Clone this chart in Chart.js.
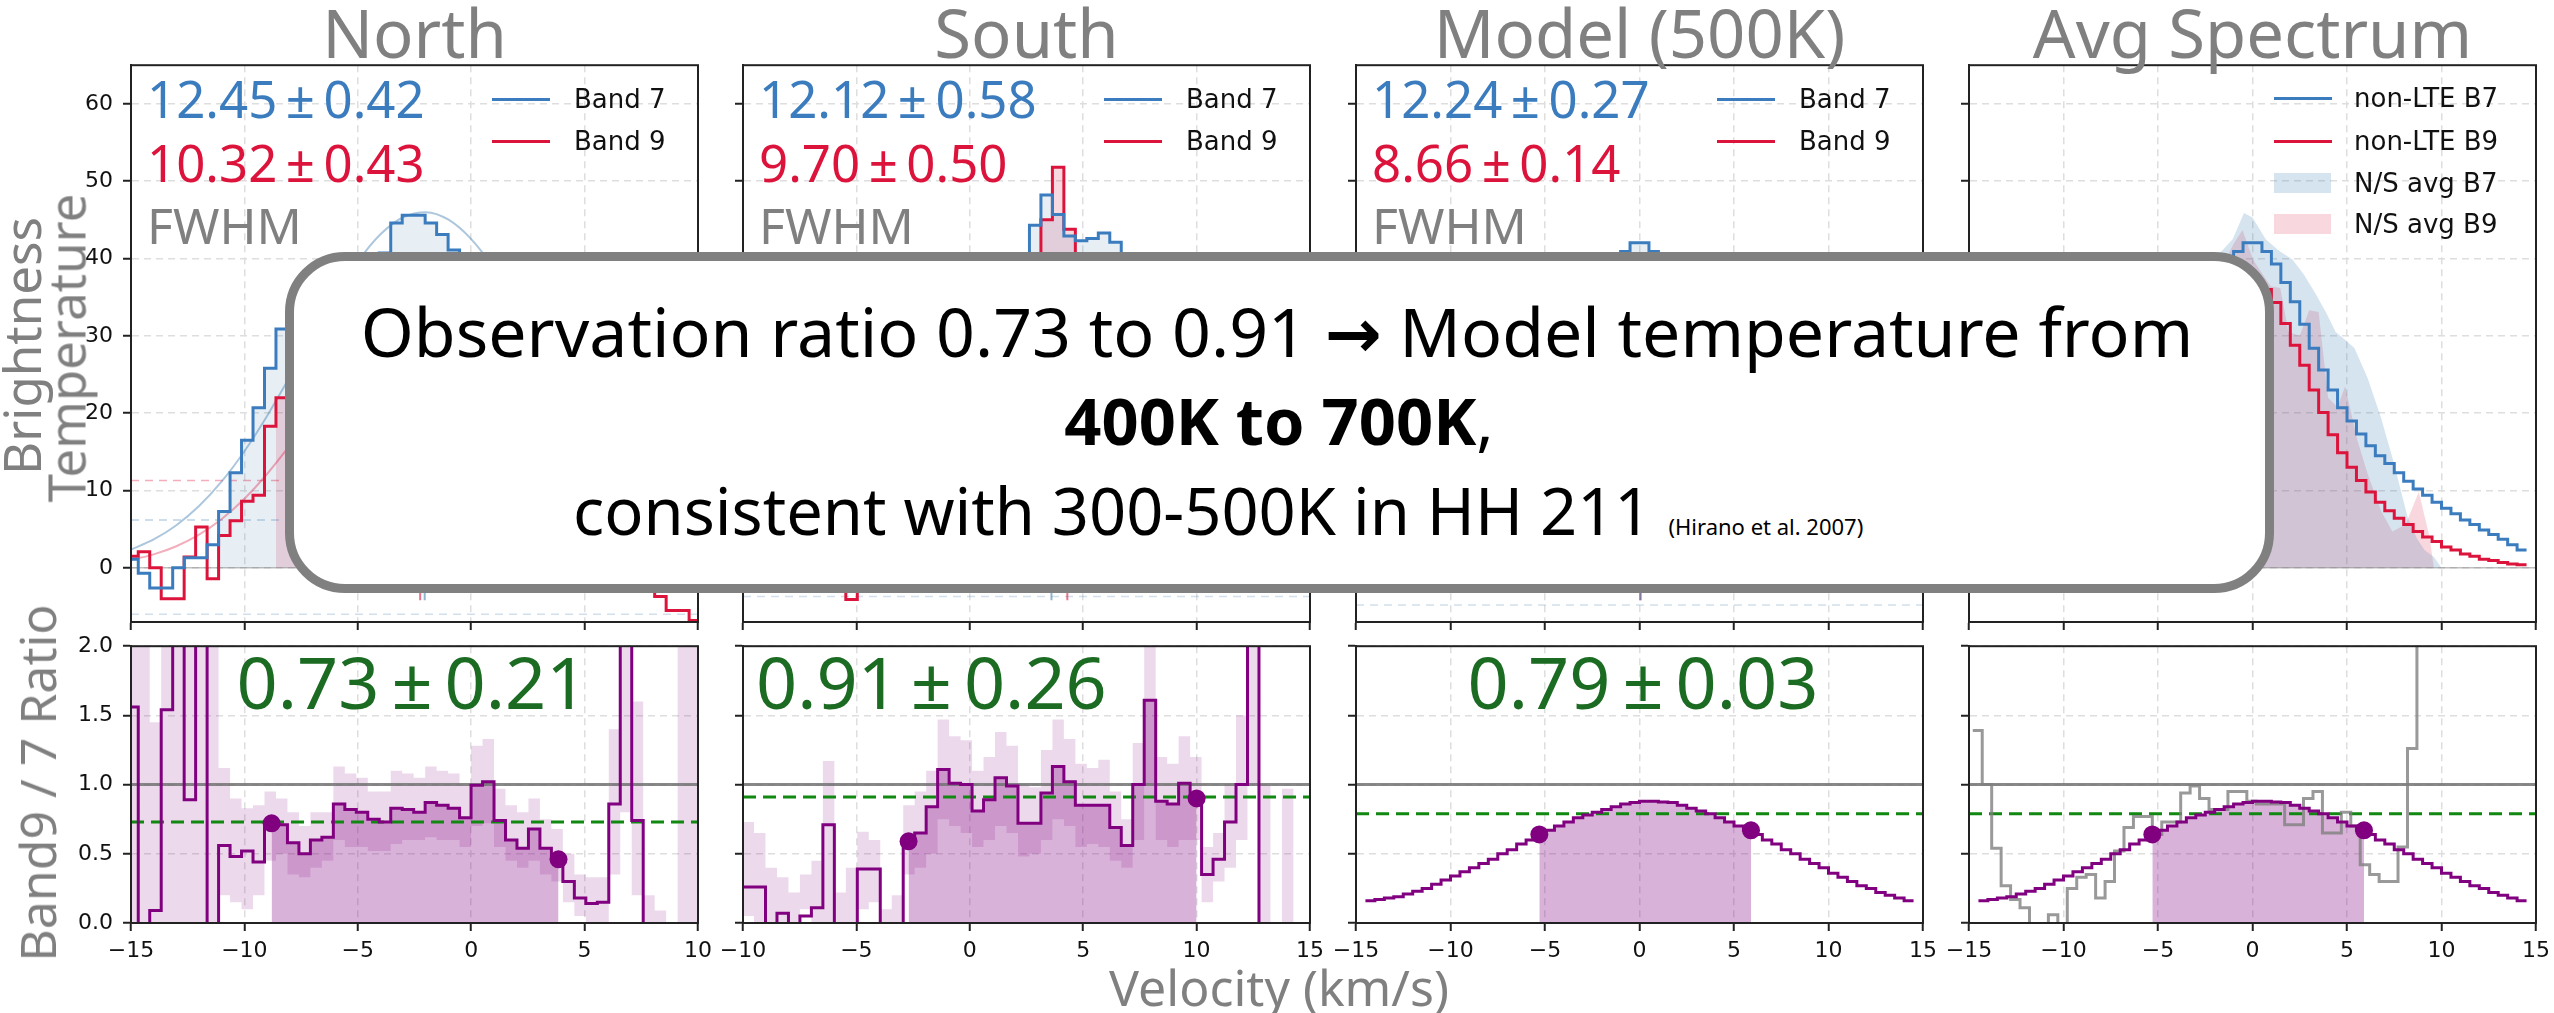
<!DOCTYPE html>
<html>
<head>
<meta charset="utf-8">
<title>Band 9 / Band 7 ratio</title>
<script src="https://cdn.jsdelivr.net/npm/chart.js@4.4.1/dist/chart.umd.min.js"></script>
<style>
  html, body { margin: 0; padding: 0; background: #fff; }
  body { position: relative; width: 2554px; height: 1013px; overflow: hidden; }
  canvas, .t, .box, .key { position: absolute; }
  .t { line-height: 1; white-space: nowrap; z-index: 5; }
  .box { left: 285px; top: 252px; width: 1989px; height: 341px; box-sizing: border-box;
         border: 9px solid #808080; border-radius: 60px; background: #fff; z-index: 10; }
</style>
</head>
<body>
<script>
// ---- data ----
const titles = ["North", "South", "Model (500K)", "Avg Spectrum"];
const xRanges = [[-15, 10], [-10, 15], [-15, 15], [-15, 15]];
const tempRange = [-7, 65];
const ratioRange = [0, 2];

// channel grid of the observed spectra (km/s)
const chanWidth = 0.506;
const northStart = -15.186;
const southStart = -10.02;

const northB7 = [1.1, -0.7, -2.6, -2.6, 0.0, 1.3, 1.3, 3.0, 7.3, 12.3, 16.5, 20.7, 25.8, 30.9, 33.5, 35.0, 35.5, 36.5, 37.0, 37.5,
  38.0, 39.0, 40.7, 44.6, 45.6, 45.6, 44.6, 43.1, 41.1, 38.5, 35.0, 31.0, 27.0, 23.0, 19.0, 15.0, 12.0, 9.0, 6.5, 4.5,
  3.0, 2.0, 1.0, 0.5, 0.5, 0.0, -0.5, -1.0, -1.0, -1.5];
const northB9 = [1.5, 2.1, 0.0, -4.0, -4.0, 1.4, 5.3, -1.4, 4.2, 6.1, 8.6, 9.4, 18.3, 22.0, 22.5, 21.5, 18.5, 21.5, 22.5, 30.5,
  31.5, 31.0, 30.5, 33.0, 38.0, 37.5, 36.0, 37.0, 34.5, 31.5, 27.0, 31.0, 27.5, 17.5, 11.5, 8.3, 8.0, 4.8, 2.2, 1.3,
  0.5, 0.3, 0.8, 1.0, 0.5, -1.0, -3.7, -5.5, -5.5, -6.8];
const northFitV = [-15, -14, -13, -12, -11, -10, -9, -8, -7, -6, -5, -4, -3, -2, -1, 0, 1, 2, 3, 4, 5, 6, 7, 8, 9, 10];
const northFitB7 = [2.36, 3.67, 5.51, 7.99, 11.17, 15.08, 19.65, 24.70, 29.96, 35.05, 39.59, 43.13, 45.34, 46.0, 45.02, 42.51,
  38.74, 34.07, 28.90, 23.66, 18.69, 14.25, 10.47, 7.43, 5.09, 3.36];
const northFitB9 = [1.05, 1.75, 2.80, 4.29, 6.32, 8.94, 12.14, 15.83, 19.82, 23.81, 27.46, 30.41, 32.33, 33.0, 32.33, 30.41,
  27.46, 23.81, 19.82, 15.83, 12.14, 8.94, 6.32, 4.29, 2.80, 1.75];
const northRatio = [1.56, -0.3, 0.09, 1.54, 3.0, 0.89, 3.0, -0.5, 0.56, 0.48, 0.52, 0.44, 0.72, 0.71, 0.58, 0.50, 0.60, 0.62, 0.86, 0.82,
  0.80, 0.75, 0.73, 0.83, 0.82, 0.80, 0.87, 0.85, 0.83, 0.76, 0.995, 1.02, 0.74, 0.60, 0.54, 0.68, 0.54, 0.46, 0.30, 0.18,
  0.14, 0.15, 0.86, 3.0, 0.74, -0.5, -0.5, -0.5, -0.5, -0.5];
const northRatioLo = [0, 0, 0, 0, 0, 0, 0, 0, 0.2, 0.15, 0.1, 0.2, 0.45, 0.5, 0.35, 0.33, 0.4, 0.45, 0.6, 0.55,
  0.55, 0.52, 0.52, 0.57, 0.6, 0.6, 0.62, 0.6, 0.6, 0.55, 0.7, 0.72, 0.55, 0.45, 0.4, 0.45, 0.35, 0.3, 0.15, 0.05,
  0, 0, 0.35, 0.8, 0.2, 0, 0, 0, 0, 0];
const northRatioHi = [2, 2, 1.45, 2, 2, 2, 2, 2, 1.12, 0.9, 0.83, 0.85, 0.95, 0.9, 0.8, 0.7, 0.8, 0.8, 1.13, 1.08,
  1.05, 0.95, 0.95, 1.1, 1.08, 1.05, 1.13, 1.1, 1.08, 1.0, 1.28, 1.33, 0.97, 0.85, 0.8, 0.9, 0.75, 0.68, 0.5, 0.35,
  0.33, 0.33, 1.4, 2, 1.6, 0.2, 0.09, 0, 2, 2];

const southB7 = [1.0, 0.5, 1.5, 0.8, 1.2, 2.0, 1.0, 2.5, 2.0, 1.5, 2.5, 3.5, 5.0, 8.0, 12.0, 17.0, 22.0, 27.0, 31.0, 34.0,
  36.0, 37.5, 39.0, 39.5, 39.5, 44.3, 48.2, 45.7, 42.9, 42.3, 42.6, 43.3, 42.1, 36.0, 30.0, 22.0, 17.0, 13.0, 10.0, 8.0,
  5.0, 3.5, 3.0, 2.0, 1.0, 0.5, 0.8, 0.3, 0.5, 0.2];
const southB9 = [0.3, 0.2, -0.5, 0.2, 0.3, 0.5, 1.5, 2.0, 0.5, -4.1, 1.8, 1.0, 1.5, 4.0, 7.0, 11.0, 18.5, 30.0, 31.0, 33.5,
  29.5, 33.0, 40.0, 39.0, 29.0, 32.0, 45.0, 51.8, 43.8, 36.0, 36.5, 37.0, 29.0, 20.0, 30.0, 35.0, 15.0, 11.4, 10.0, 7.2,
  2.0, 1.7, 1.8, 2.0, 2.0, 0.3, 0.0, 0.2, -0.3, 0.1];
const southRatio = [0.26, 0.26, -0.5, 0.07, -0.5, 0.05, 0.11, 0.71, -0.5, -0.5, 0.39, 0.39, -0.5, -0.5, 0.59, 0.65, 0.84, 1.11, 1.01, 1.0,
  0.81, 0.89, 1.05, 0.99, 0.72, 0.72, 0.94, 1.13, 1.02, 0.85, 0.85, 0.85, 0.69, 0.56, 1.0, 1.61, 0.88, 0.86, 1.01, 0.9,
  0.35, 0.46, 0.73, 1.0, 3.0, -0.5, -0.5, -0.5, -0.5, -0.5];
const southRatioLo = [0.05, 0, 0, 0, 0, 0.1, 0, 0, 0, 0, 0.1, 0.15, 0, 0, 0.35, 0.4, 0.5, 0.75, 0.7, 0.65,
  0.55, 0.6, 0.7, 0.65, 0.48, 0.5, 0.6, 0.75, 0.7, 0.55, 0.57, 0.55, 0.45, 0.4, 0.6, 1.0, 0.6, 0.55, 0.6, 0.6,
  0.15, 0.3, 0.4, 0.6, 1.0, 0, 0, 0, 0, 0];
const southRatioHi = [0.73, 0.65, 0.4, 0.33, 0.22, 0.35, 0.45, 1.17, 0.22, 0.4, 0.66, 0.6, 0.1, 0.2, 0.85, 0.95, 1.1, 1.47, 1.35, 1.32,
  1.1, 1.2, 1.38, 1.28, 1.0, 0.98, 1.25, 1.47, 1.33, 1.15, 1.12, 1.18, 0.95, 0.75, 1.3, 2.0, 1.2, 1.15, 1.35, 1.2,
  0.55, 0.65, 1.0, 1.5, 2.0, 1.0, 0, 0.97, 0, 0];

// non-LTE model (500 K), 0.5 km/s bins from -14.5
const modelStart = -14.5;
const modelWidth = 0.5;
const modelB7 = [2.3, 3.0, 3.7, 4.3, 4.9, 5.6, 6.2, 7.0, 7.7, 8.5, 9.4, 10.2, 11.2, 12.3, 13.5, 14.5, 15.8, 17.3, 19.0, 20.7,
  23.0, 25.6, 28.4, 31.5, 34.4, 36.9, 39.3, 40.9, 42.05, 42.05, 40.9, 39.3, 36.9, 34.4, 31.5, 28.4, 25.6, 23.0, 20.7, 19.0,
  17.3, 15.8, 14.5, 13.5, 12.3, 11.2, 10.2, 9.4, 8.5, 7.7, 7.0, 6.2, 5.6, 4.9, 4.3, 3.7, 3.0, 2.3];
const modelB9 = [0.4, 0.5, 0.7, 0.95, 1.1, 1.5, 1.8, 2.3, 2.7, 3.4, 4.0, 4.7, 5.6, 6.4, 7.4, 8.5, 9.8, 11.3, 13.0, 14.9,
  17.2, 20.1, 23.0, 26.2, 28.8, 31.6, 34.3, 36.0, 37.0, 37.0, 36.0, 34.3, 31.6, 28.8, 26.2, 23.0, 20.1, 17.2, 14.9, 13.0,
  11.3, 9.8, 8.5, 7.4, 6.4, 5.6, 4.7, 4.0, 3.4, 2.7, 2.3, 1.8, 1.5, 1.1, 0.95, 0.7, 0.5, 0.4];
const modelRatio = [0.16, 0.17, 0.18, 0.19, 0.21, 0.23, 0.25, 0.28, 0.31, 0.34, 0.37, 0.40, 0.43, 0.46, 0.50, 0.53, 0.57, 0.60, 0.64, 0.67,
  0.70, 0.73, 0.76, 0.78, 0.80, 0.82, 0.84, 0.86, 0.87, 0.88, 0.88, 0.875, 0.87, 0.85, 0.83, 0.81, 0.79, 0.76, 0.73, 0.70,
  0.67, 0.64, 0.60, 0.57, 0.53, 0.50, 0.46, 0.43, 0.40, 0.36, 0.33, 0.30, 0.27, 0.25, 0.22, 0.20, 0.18, 0.16];

// N/S averaged spectrum
const avgRatioStart = -14.8;
const avgRatioWidth = 0.5;
const avgRatio = [1.39, 1.0, 0.54, 0.27, 0.17, 0.11, -0.05, -0.05, 0.06, -0.05, 0.25, 0.33, 0.35, 0.18, 0.30, 0.52, 0.69, 0.77, 0.77, 0.64,
  0.73, 0.73, 0.94, 0.99, 0.90, 0.82, 0.82, 0.95, 0.95, 0.88, 0.86, 0.86, 0.86, 0.71, 0.71, 0.90, 0.95, 0.65, 0.65, 0.80,
  0.70, 0.42, 0.35, 0.30, 0.30, 0.55, 1.26, 3.0, 3.0];
const avgBandB7V = [-13, -12, -11, -10, -9, -8, -7, -6, -5, -4, -3, -2, -1.05, -0.45, 0, 0.7, 1.4, 2.1, 2.7, 3.3, 3.9, 4.4, 4.9, 5.4,
  6.1, 6.8, 7.5, 8.2, 8.7, 9.1, 9.6, 10.0];
const avgBandB7T = [0, 1, 3, 6, 10, 15, 20, 25, 30, 34, 37, 40, 42.5, 45.9, 45.3, 42.5, 41.0, 39.9, 38.0, 35.6, 33.0, 30.5, 29.5, 28.4,
  24.5, 19.4, 13.4, 6.6, 3.8, 2.3, 1.4, 0];
const avgBandB9V = [-12, -10, -8, -6, -4, -3, -2, -1.0, -0.53, 0.04, 0.96, 1.47, 1.9, 2.5, 3.0, 3.5, 4.0, 4.5, 4.9, 5.55, 6.1, 6.8,
  7.4, 8.1, 8.8, 9.35, 9.6];
const avgBandB9T = [0, 3, 9, 18, 27, 32, 37, 41.9, 43.7, 39.8, 36.4, 36.2, 30.5, 30.0, 33.3, 33.1, 22.0, 20.8, 23.5, 16.5, 12.1, 7.4,
  4.7, 5.6, 9.8, 4.2, 0];

// fitted widths and ratios
const fwhmB7 = ["12.45", "12.12", "12.24"];
const fwhmB7Err = ["0.42", "0.58", "0.27"];
const fwhmB9 = ["10.32", "9.70", "8.66"];
const fwhmB9Err = ["0.43", "0.50", "0.14"];
const ratioMean = [0.73, 0.91, 0.79, 0.79];
const ratioMeanText = ["0.73", "0.91", "0.79"];
const ratioErrText = ["0.21", "0.26", "0.03"];
const ratioRef = 1.0;
const ratioSpan = [[-8.8, 3.85], [-2.7, 10.0], [-5.3, 5.9], [-5.3, 5.9]];
const b7Span = [[-11.14, 1.51], [-3.0, 9.2], [-6.1, 6.1]];
const b9Span = [[-8.61, 1.01], [-2.7, 10.0], [-4.3, 4.3]];
const noiseB7 = 6.2, noiseB9 = 11.3;
const floorLine = [-6.0, -3.7, -4.8];
const centroidB7 = [-2.05, 3.6, 0.05];
const centroidB9 = [-2.25, 4.3, 0.05];
const centroidFloor = -4.2;

// ---- layout ----
const W = 567;
const panelLeft = [131, 743, 1356, 1969];
const topY = 62, topH = 560;
const lowY = 643, lowH = 280;

const BLUE = "#3b7cbf", RED = "#dc143c", PURPLE = "#800080", GREY = "#808080";

Chart.defaults.font.family = '"DejaVu Sans"';
Chart.defaults.color = "#111";
Chart.defaults.elements.point.radius = 0;
Chart.defaults.elements.point.hoverRadius = 0;

// helpers that turn the arrays into points
function steps(start, dv, vals) {
  const pts = vals.map((y, i) => ({ x: start + i * dv, y: y }));
  pts.push({ x: start + vals.length * dv, y: vals[vals.length - 1] });
  return pts;
}
function valueAt(start, dv, vals, x) {
  let i = Math.floor((x - start) / dv);
  i = Math.max(0, Math.min(vals.length - 1, i));
  return vals[i];
}
function stepSpan(start, dv, vals, span) {
  const pts = [{ x: span[0], y: valueAt(start, dv, vals, span[0]) }];
  vals.forEach((y, i) => {
    const x = start + i * dv;
    if (x > span[0] && x < span[1]) pts.push({ x: x, y: y });
  });
  pts.push({ x: span[1], y: valueAt(start, dv, vals, span[1]) });
  return pts;
}
const polyline = (xs, ys) => xs.map((x, i) => ({ x: x, y: ys[i] }));
const hline = (y, xr) => [{ x: xr[0], y: y }, { x: xr[1], y: y }];
const vline = (x, y0, y1) => [{ x: x, y: y0 }, { x: x, y: y1 }];

const stepLine = (data, color, width) => ({ data, borderColor: color, borderWidth: width, stepped: true });
const stepArea = (data, color) => ({ data, borderWidth: 0, borderColor: "transparent", backgroundColor: color, stepped: true, fill: "origin" });
const plain = (data, color, width, dash) => ({ data, borderColor: color, borderWidth: width, borderDash: dash || [] });
const smooth = (data, color, width) => ({ data, borderColor: color, borderWidth: width, cubicInterpolationMode: "monotone" });
const band = (data, color) => ({ data, borderWidth: 0, borderColor: "transparent", backgroundColor: color, fill: "origin" });

const framePlugin = {
  id: "frame",
  afterDraw(chart) {
    const a = chart.chartArea, ctx = chart.ctx;
    ctx.save();
    ctx.strokeStyle = "#222";
    ctx.lineWidth = 2;
    ctx.strokeRect(a.left, a.top, a.right - a.left, a.bottom - a.top);
    ctx.restore();
  }
};

const minus = v => String(v).replace("-", "\u2212");

function makeChart(i, y0, h, yr, yStep, showX, showY, yFmt, datasets) {
  const padL = 75, padT = 20, padR = 32, xh = showX ? 62 : 42;
  const cw = W + padL + padR, ch = h + padT + xh;
  const c = document.createElement("canvas");
  c.width = cw; c.height = ch;
  c.style.left = (panelLeft[i] - padL) + "px";
  c.style.top = (y0 - padT) + "px";
  c.style.width = cw + "px"; c.style.height = ch + "px";
  document.body.appendChild(c);
  const grid = { color: "#dedede", lineWidth: 1.5, tickColor: "#222", tickLength: 8, tickWidth: 2, tickBorderDash: [] };
  new Chart(c, {
    type: "line",
    data: { datasets: datasets },
    options: {
      responsive: false, animation: false, devicePixelRatio: 1,
      layout: { padding: { top: padT, right: padR, left: 0, bottom: 0 } },
      plugins: { legend: { display: false }, tooltip: { enabled: false } },
      scales: {
        x: {
          type: "linear", min: xRanges[i][0], max: xRanges[i][1],
          ticks: { stepSize: 5, includeBounds: false, autoSkip: false, maxRotation: 0, padding: 7,
                   font: { size: 22 }, callback: v => showX ? minus(v) : "" },
          grid: grid, border: { color: "#222", width: 2, dash: [7, 5] },
          afterFit: s => { s.height = xh; }
        },
        y: {
          min: yr[0], max: yr[1],
          ticks: { stepSize: yStep, includeBounds: false, autoSkip: false, padding: 10,
                   font: { size: 22 }, callback: v => showY ? yFmt(v) : "" },
          grid: grid, border: { color: "#222", width: 2, dash: [7, 5] },
          afterFit: s => { s.width = padL; }
        }
      }
    },
    plugins: [framePlugin]
  });
}

// ---- top row: spectra ----
function spectrumSets(i, start, dv, b7, b9) {
  const xr = xRanges[i];
  const sets = [
    stepLine(steps(start, dv, b7), BLUE, 3),
    stepLine(steps(start, dv, b9), RED, 3)
  ];
  if (i === 0) {
    sets.push(smooth(polyline(northFitV, northFitB7), "rgba(70,130,180,0.45)", 2));
    sets.push(smooth(polyline(northFitV, northFitB9), "rgba(220,20,60,0.35)", 2));
    sets.push(plain(hline(noiseB9, xr), "rgba(220,20,60,0.35)", 1.5, [8, 6]));
    sets.push(plain(hline(noiseB7, xr), "rgba(70,130,180,0.35)", 1.5, [8, 6]));
  }
  sets.push(plain(vline(centroidB7[i], centroidFloor, 0), "rgba(70,130,180,0.6)", 2));
  sets.push(plain(vline(centroidB9[i], centroidFloor, 0), "rgba(220,20,60,0.6)", 2));
  sets.push(plain(hline(floorLine[i], xr), "rgba(70,130,180,0.25)", 1.5, [8, 6]));
  sets.push(plain(hline(0, xr), "rgba(128,128,128,0.5)", 1.5));
  sets.push(stepArea(stepSpan(start, dv, b7, b7Span[i]), "rgba(70,130,180,0.13)"));
  sets.push(stepArea(stepSpan(start, dv, b9, b9Span[i]), "rgba(220,20,60,0.16)"));
  return sets;
}

makeChart(0, topY, topH, tempRange, 10, false, true, v => String(v), spectrumSets(0, northStart, chanWidth, northB7, northB9));
makeChart(1, topY, topH, tempRange, 10, false, false, null, spectrumSets(1, southStart, chanWidth, southB7, southB9));
makeChart(2, topY, topH, tempRange, 10, false, false, null, spectrumSets(2, modelStart, modelWidth, modelB7, modelB9));
makeChart(3, topY, topH, tempRange, 10, false, false, null, [
  stepLine(steps(modelStart, modelWidth, modelB7), BLUE, 3),
  stepLine(steps(modelStart, modelWidth, modelB9), RED, 3),
  plain(hline(0, xRanges[3]), "rgba(128,128,128,0.5)", 1.5),
  band(polyline(avgBandB7V, avgBandB7T), "rgba(70,130,180,0.22)"),
  band(polyline(avgBandB9V, avgBandB9T), "rgba(220,20,60,0.17)")
]);

// ---- bottom row: Band9 / Band7 ratio ----
function ratioSets(i, start, dv, vals, lo, hi, extra) {
  const xr = xRanges[i];
  const span = ratioSpan[i];
  const sets = [
    { data: span.map(x => ({ x: x, y: valueAt(start, dv, vals, x) })), showLine: false,
      pointRadius: 9, pointBackgroundColor: PURPLE, pointBorderWidth: 0 },
    stepLine(steps(start, dv, vals), PURPLE, 3)
  ];
  if (extra) sets.push(extra);
  sets.push(plain(hline(ratioMean[i], xr), "#118811", 3, [13, 7]));
  sets.push(plain(hline(ratioRef, xr), "rgba(115,115,115,0.85)", 3));
  sets.push(stepArea(stepSpan(start, dv, vals, span), "rgba(128,0,128,0.3)"));
  if (lo) {
    sets.push({ data: steps(start, dv, lo), borderWidth: 0, borderColor: "transparent", stepped: true });
    sets.push({ data: steps(start, dv, hi), borderWidth: 0, borderColor: "transparent", stepped: true,
                fill: "-1", backgroundColor: "rgba(128,0,128,0.15)" });
  }
  return sets;
}
const fmt1 = v => v.toFixed(1);
makeChart(0, lowY, lowH, ratioRange, 0.5, true, true, fmt1, ratioSets(0, northStart, chanWidth, northRatio, northRatioLo, northRatioHi));
makeChart(1, lowY, lowH, ratioRange, 0.5, true, false, fmt1, ratioSets(1, southStart, chanWidth, southRatio, southRatioLo, southRatioHi));
makeChart(2, lowY, lowH, ratioRange, 0.5, true, false, fmt1, ratioSets(2, modelStart, modelWidth, modelRatio));
makeChart(3, lowY, lowH, ratioRange, 0.5, true, false, fmt1, ratioSets(3, modelStart, modelWidth, modelRatio, null, null,
  stepLine(steps(avgRatioStart, avgRatioWidth, avgRatio), "rgba(128,128,128,0.8)", 3)));

// ---- text ----
function txt(html, x, base, size, color, o) {
  o = o || {};
  const fam = o.family || '"Noto Sans"';
  const asc = fam.indexOf("DejaVu") >= 0 ? 0.846 : 0.888;
  const d = document.createElement("div");
  d.className = "t";
  d.style.left = x + "px";
  d.style.top = (base - asc * size) + "px";
  d.style.fontSize = size + "px";
  d.style.fontFamily = fam;
  d.style.color = color;
  d.style.fontWeight = o.weight || 400;
  if (o.z) d.style.zIndex = o.z;
  if (o.center) d.style.transform = "translateX(-50%)";
  d.innerHTML = html;
  document.body.appendChild(d);
}
function vtxt(s, cx, cy, size, color) {
  const d = document.createElement("div");
  d.className = "t";
  d.style.cssText = "left:" + cx + "px;top:" + cy + "px;font-size:" + size + "px;font-family:'Noto Sans';color:" + color +
    ";transform:translate(-50%,-50%) rotate(-90deg);";
  d.textContent = s;
  document.body.appendChild(d);
}
function keyLine(x, y, color) {
  const d = document.createElement("div");
  d.className = "key";
  d.style.cssText = "left:" + x + "px;top:" + (y - 1.5) + "px;width:58px;height:3px;background:" + color + ";z-index:5";
  document.body.appendChild(d);
}
function keyPatch(x, y, color) {
  const d = document.createElement("div");
  d.className = "key";
  d.style.cssText = "left:" + x + "px;top:" + (y - 10) + "px;width:57px;height:20px;background:" + color + ";z-index:5";
  document.body.appendChild(d);
}

const pm = "\u2009\u00b1\u2009";
titles.forEach((t, i) => txt(t, panelLeft[i] + W / 2, 58, 67, GREY, { center: true }));
for (let i = 0; i < 3; i++) {
  const x = panelLeft[i] + 16;
  txt(fwhmB7[i] + pm + fwhmB7Err[i], x, 118, 51, BLUE);
  txt(fwhmB9[i] + pm + fwhmB9Err[i], x, 182, 51, RED);
  txt("FWHM", x, 244, 50, GREY);
  keyLine(panelLeft[i] + 361, 99, BLUE);
  keyLine(panelLeft[i] + 361, 141, RED);
  txt("Band 7", panelLeft[i] + 443, 108, 26, "#111", { family: '"DejaVu Sans"' });
  txt("Band 9", panelLeft[i] + 443, 150, 26, "#111", { family: '"DejaVu Sans"' });
}
keyLine(panelLeft[3] + 305, 98, BLUE);
keyLine(panelLeft[3] + 305, 141, RED);
keyPatch(panelLeft[3] + 305, 183, "rgba(70,130,180,0.22)");
keyPatch(panelLeft[3] + 305, 224, "rgba(220,20,60,0.17)");
["non-LTE B7", "non-LTE B9", "N/S avg B7", "N/S avg B9"].forEach((s, k) =>
  txt(s, panelLeft[3] + 385, [107, 150, 192, 233][k], 26, "#111", { family: '"DejaVu Sans"' }));

txt(ratioMeanText[0] + pm + ratioErrText[0], 412, 709, 72, "#1b6b22", { center: true });
txt(ratioMeanText[1] + pm + ratioErrText[1], 756, 709, 72, "#1b6b22");
txt(ratioMeanText[2] + pm + ratioErrText[2], 1643, 709, 72, "#1b6b22", { center: true });

vtxt("Brightness", 21, 346, 51, GREY);
vtxt("Temperature", 66, 348, 51, GREY);
vtxt("Band9 / 7 Ratio", 37, 783, 50, GREY);
txt("Velocity (km/s)", 1279, 1006, 50, GREY, { center: true });

// ---- summary box ----
const box = document.createElement("div");
box.className = "box";
document.body.appendChild(box);
txt("Observation ratio 0.73 to 0.91 <span style=\"font-family:'DejaVu Sans';font-weight:bold\">\u2192</span> Model temperature from",
  1277, 357, 68, "#000", { center: true, z: 11 });
txt("<b>400K to 700K</b>,", 1279, 446, 65, "#000", { center: true, z: 11 });
txt("consistent with 300-500K in HH 211 <span style=\"font-size:22px\">(Hirano et al. 2007)</span>", 573, 536, 65, "#000", { z: 11 });
</script>
</body>
</html>
